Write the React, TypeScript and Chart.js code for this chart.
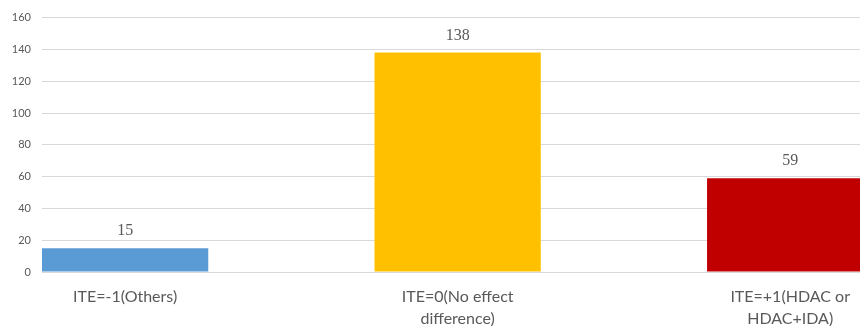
import React, { useEffect, useRef } from "react";
import { Chart, registerables } from "chart.js";

Chart.register(...registerables);

// Categories, shown as multi-line tick labels
const categories: string[][] = [
  ["ITE=-1(Others)"],
  ["ITE=0(No effect", "difference)"],
  ["ITE=+1(HDAC or", "HDAC+IDA)"],
];
const counts: number[] = [15, 138, 59];
const barColors: string[] = ["#5B9BD5", "#FFC000", "#C00000"];
const yTicks: number[] = [0, 20, 40, 60, 80, 100, 120, 140, 160];

const textColor = "#595959";

// Writes each bar's value above it
const valueLabels = {
  id: "valueLabels",
  afterDatasetsDraw(chart: any) {
    const { ctx } = chart;
    const meta = chart.getDatasetMeta(0);
    ctx.save();
    ctx.font = '16px "Liberation Serif", "DejaVu Serif", serif';
    ctx.fillStyle = textColor;
    ctx.textAlign = "center";
    ctx.textBaseline = "bottom";
    meta.data.forEach((bar: any, i: number) => {
      ctx.fillText(String(counts[i]), bar.x, bar.y - 9);
    });
    ctx.restore();
  },
};

export default function App() {
  const canvasRef = useRef<HTMLCanvasElement | null>(null);

  useEffect(() => {
    if (!canvasRef.current) return;
    const chart = new Chart(canvasRef.current, {
      type: "bar",
      data: {
        datasets: [
          {
            data: counts.map((v, i) => ({ x: i, y: v })),
            backgroundColor: barColors,
            borderWidth: 0,
            categoryPercentage: 1,
            barPercentage: 0.5,
          },
        ],
      },
      options: {
        animation: false,
        responsive: false,
        maintainAspectRatio: false,
        layout: { padding: { top: 16, left: 0, right: 0, bottom: 0 } },
        plugins: {
          legend: { display: false },
          tooltip: { enabled: false },
        },
        scales: {
          x: {
            type: "linear",
            offset: false,
            min: -0.25,
            max: 2.21,
            grid: { display: false },
            border: { display: false },
            afterBuildTicks: (scale: any) => {
              scale.ticks = categories.map((_, i) => ({ value: i }));
            },
            afterFit: (scale: any) => {
              scale.height = 54;
            },
            ticks: {
              autoSkip: false,
              maxRotation: 0,
              padding: 6,
              color: textColor,
              font: { family: "Lato, 'Open Sans', sans-serif", size: 16, lineHeight: 1.375 },
              callback: (value: any) => categories[Number(value)] ?? "",
            },
          },
          y: {
            min: 0,
            max: 160,
            afterBuildTicks: (scale: any) => {
              scale.ticks = yTicks.map((v) => ({ value: v }));
            },
            afterFit: (scale: any) => {
              scale.width = 42;
            },
            grid: { color: "#D9D9D9", lineWidth: 1, drawTicks: false },
            border: { display: false },
            ticks: {
              padding: 11,
              color: textColor,
              font: { family: "Lato, 'Open Sans', sans-serif", size: 11 },
            },
          },
        },
      },
      plugins: [valueLabels],
    });
    return () => chart.destroy();
  }, []);

  return (
    <div style={{ position: "fixed", left: 0, top: 0, width: 860, height: 326, background: "#fff" }}>
      <canvas ref={canvasRef} width={860} height={326} style={{ display: "block" }} />
    </div>
  );
}
